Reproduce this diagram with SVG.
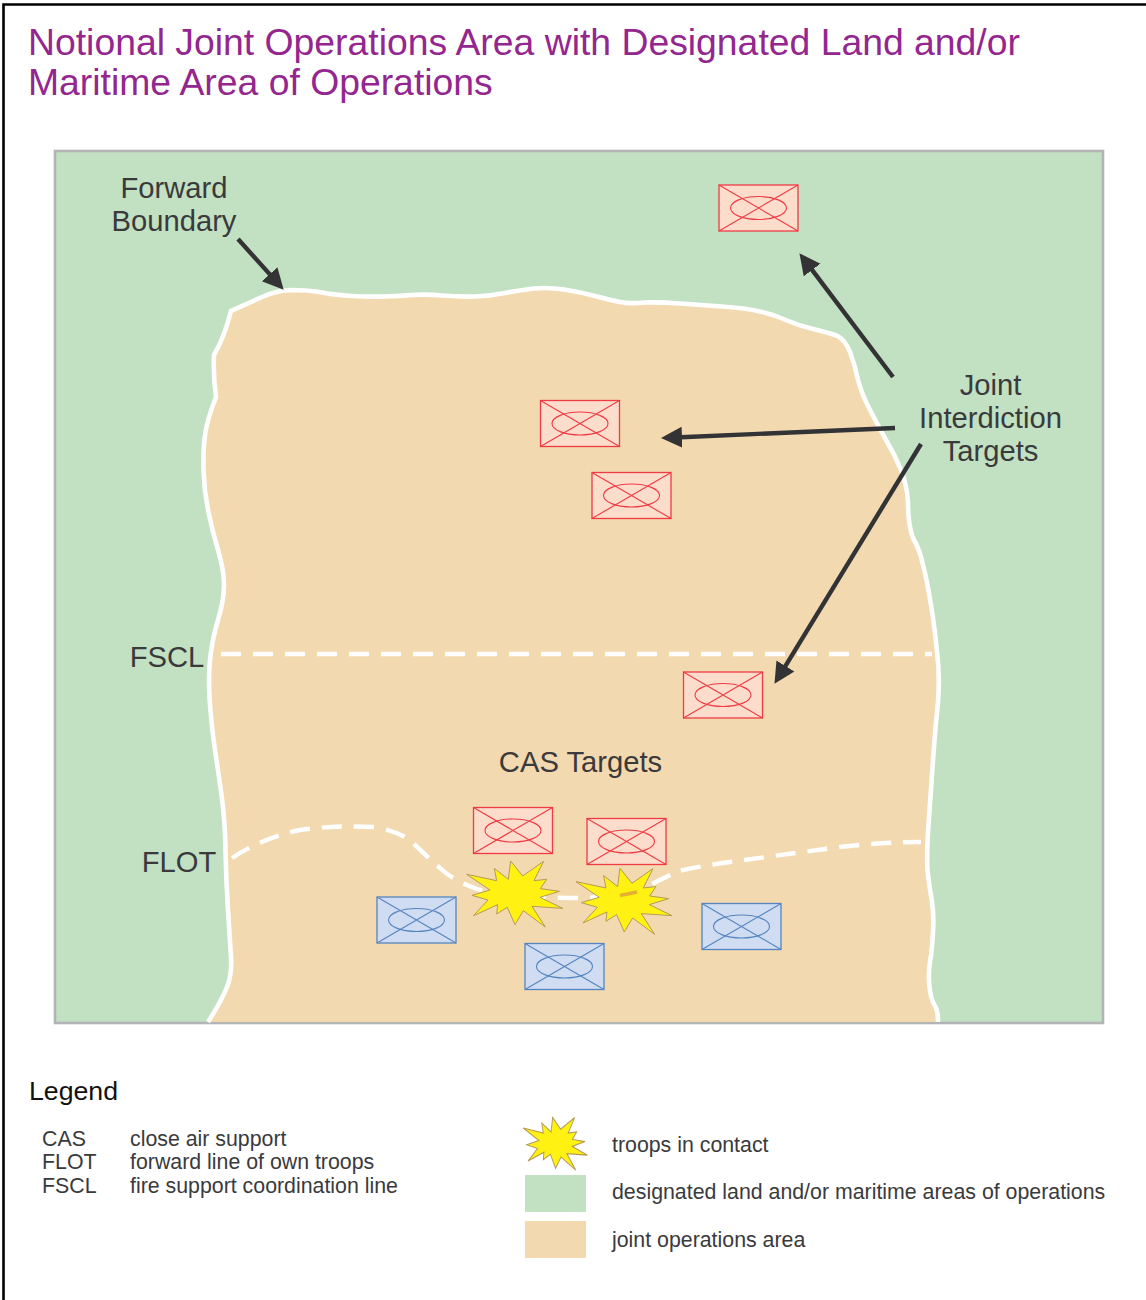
<svg xmlns="http://www.w3.org/2000/svg" width="1146" height="1300" viewBox="0 0 1146 1300">
<style>
text{font-family:"Liberation Sans",Arial,sans-serif;fill:#3a3a3c}
.title{font-size:37.33px;fill:#93278f}
.lab{font-size:29.2px;text-anchor:middle}
.leg{font-size:21.34px}
.arrow{stroke:#333335;stroke-width:4.4;fill:none;marker-end:url(#head)}
.dash{stroke:#fff;stroke-width:4.4;fill:none;stroke-dasharray:20 12}
.red{fill:#fcdccb;stroke:#ee3b44}
.blue{fill:#cfdcf1;stroke:#5585c0}
.burst{fill:#fff212;stroke:#b59a55;stroke-width:3}
</style>
<defs>
<marker id="head" markerUnits="userSpaceOnUse" markerWidth="22" markerHeight="22" refX="1" refY="11" orient="auto"><path d="M0,0.5 L21,11 L0,21.5Z" fill="#333335"/></marker>
<g id="box"><rect x="0" y="0" width="79" height="46" stroke-width="1.3"/><path d="M0,0L79,46M79,0L0,46" stroke-width="1.1" fill="none"/><ellipse cx="39.5" cy="23" rx="28" ry="11.5" stroke-width="1.1" fill="none"/></g>
<polygon id="star" points="320,253 410,272 403,235 445,268 452,213 488,258 551,214 522,272 560,268 541,296 598,304 540,322 608,355 516,349 556,411 490,362 465,404 442,352 410,372 413,344 341,377 384,330 336,316 390,300"/>
</defs>
<rect width="1146" height="1300" fill="#fff"/>
<path id="frame" d="M3.5,1300V4.5H1146" fill="none" stroke="#000" stroke-width="2.6"/>
<g id="title"><text class="title" x="28" y="55">Notional Joint Operations Area with Designated Land and/or</text><text class="title" x="28" y="95">Maritime Area of Operations</text></g>
<rect id="maritime-area" x="55" y="151" width="1048" height="872" fill="#c2e0c2" stroke="#b2b4b6" stroke-width="2.6"/>
<path id="land-area" d="M208,1022 Q222,1000 227,987 Q232,975 231,957 Q230,940 228,910 Q226,880 225.5,850 Q225,820 221.5,795 Q218,770 215,750 Q212,730 210,705 Q208,680 210,660 Q212,640 218,620 Q224,600 224,585 Q224,570 218,550 Q212,530 208,510 Q204,490 203.5,470 Q203,450 205,435 Q207,420 216,397 Q213,375 214,355 Q224,338 231,311 L262,297 Q275,291 290,290 Q310,290 322,292.5 Q335,295 352,296 Q370,297 385,296.5 Q400,296 412,295 Q425,294 442,295.5 Q460,297 475,296.5 Q490,296 505,293 Q520,290 534,288.5 Q548,287 564,289.5 Q580,292 595,296 Q610,300 620,302 Q630,304 645,302.5 Q660,302 680,303.5 Q700,305 722,306.5 Q745,308 760,311.5 Q775,315 787,320.5 Q800,326 815,329.5 Q830,333 837.5,336 Q845,340 850,352 Q855,365 858,380 Q862,395 870,410 Q878,425 886,440 Q895,455 901,470 Q907,485 908,502 Q908,525 913,538 Q920,550 923,565 Q927,580 931,605 Q935,630 937,652 Q940,675 938,702 Q935,730 933,760 Q931,790 928.5,825 Q926,860 928,875 Q930,890 932,902 Q934,915 933,932 Q932,950 930,962 Q928,975 929.5,987 Q931,1000 934.5,1005 Q938,1010 938,1022" fill="#f2d9b0" stroke="#fff" stroke-width="4.6"/>
<g id="connectors">
<path id="fscl-line" class="dash" d="M221,654H932"/>
<path id="flot-line" class="dash" d="M232,858 Q262,838 300,830 Q335,825 373,827 Q395,830 410,840 Q425,855 440,868 Q455,882 480,890 Q520,898 577,898 Q620,898 650,885 Q665,877 679,871 Q695,867 730,862 Q780,855 840,847 Q885,842 921,842"/>
<line class="arrow" x1="238" y1="239" x2="270.3" y2="274.9"/>
<line class="arrow" x1="893" y1="377" x2="811.5" y2="269.2"/>
<line class="arrow" x1="895" y1="428" x2="681" y2="437.2"/>
<line class="arrow" x1="921" y1="444" x2="784.9" y2="666.8"/>
</g>
<g id="target-1"><use class="red" href="#box" x="719" y="185"/></g>
<g id="target-2"><use class="red" href="#box" x="540.5" y="400.5"/></g>
<g id="target-3"><use class="red" href="#box" x="592" y="472.5"/></g>
<g id="target-4"><use class="red" href="#box" x="683.5" y="672"/></g>
<g id="cas-target-1"><use class="red" href="#box" x="473.5" y="807.5"/></g>
<g id="cas-target-2"><use class="red" href="#box" x="587" y="818.5"/></g>
<g id="friendly-1"><use class="blue" href="#box" x="377" y="897"/></g>
<g id="friendly-2"><use class="blue" href="#box" x="525" y="943.5"/></g>
<g id="friendly-3"><use class="blue" href="#box" x="702" y="903.5"/></g>
<g id="contact-1"><use class="burst" href="#star" transform="translate(360,790) scale(.3333)"/></g>
<g id="contact-2"><use class="burst" href="#star" transform="translate(469.3,797.3) scale(.3333)"/><path d="M620,895.5L637,892" stroke="#e5b030" stroke-width="3.4" fill="none"/></g>
<g id="labels">
<text class="lab" x="174" y="198">Forward</text><text class="lab" x="174" y="231">Boundary</text>
<text class="lab" x="990.5" y="395">Joint</text><text class="lab" x="990.5" y="428">Interdiction</text><text class="lab" x="990.5" y="461">Targets</text>
<text class="lab" x="167" y="667">FSCL</text>
<text class="lab" x="580.5" y="772">CAS Targets</text>
<text class="lab" x="179" y="872">FLOT</text>
</g>
<g id="legend">
<text x="29" y="1100" font-size="26.7" style="fill:#111">Legend</text>
<text class="leg" x="42" y="1146">CAS</text><text class="leg" x="130" y="1146">close air support</text>
<text class="leg" x="42" y="1169">FLOT</text><text class="leg" x="130" y="1169">forward line of own troops</text>
<text class="leg" x="42" y="1193">FSCL</text><text class="leg" x="130" y="1193">fire support coordination line</text>
<use class="burst" style="stroke-width:4.2" href="#star" transform="translate(452.2,1060.5) scale(.2222,.2667)"/>
<rect x="525" y="1175" width="61" height="37" fill="#c2e0c2"/>
<rect x="525" y="1221" width="61" height="37" fill="#f2d9b0"/>
<text class="leg" x="612" y="1152">troops in contact</text>
<text class="leg" x="612" y="1199">designated land and/or maritime areas of operations</text>
<text class="leg" x="612" y="1247">joint operations area</text>
</g>
</svg>
